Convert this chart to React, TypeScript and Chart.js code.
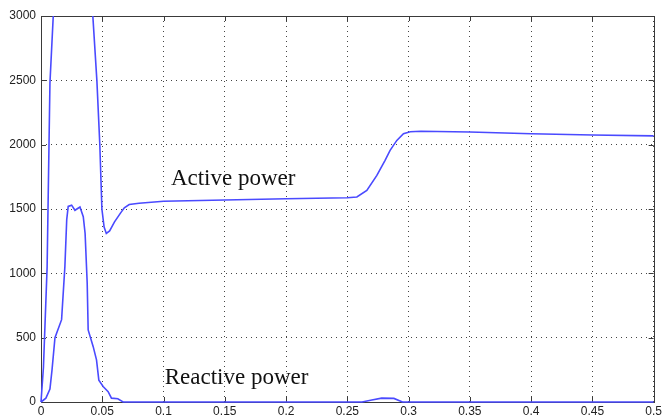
import { useEffect, useRef } from "react";
import { Chart, registerables } from "chart.js";

Chart.register(...registerables);

// Time axis (s) and active power values
const activeT = [0, 0.002, 0.005, 0.0073, 0.01, 0.013, 0.02, 0.03, 0.038, 0.0423, 0.0456, 0.048, 0.0497, 0.0515, 0.0533, 0.056, 0.06, 0.065, 0.068, 0.072, 0.08, 0.1, 0.15, 0.2, 0.25, 0.2578, 0.2659, 0.2741, 0.2808, 0.2849, 0.2904, 0.2958, 0.3013, 0.31, 0.35, 0.4, 0.45, 0.5];
const activeP = [0, 270, 1050, 2480, 3000, 3600, 4300, 4500, 3800, 3000, 2500, 2000, 1500, 1360, 1310, 1330, 1400, 1470, 1510, 1535, 1545, 1560, 1570, 1580, 1588, 1593, 1645, 1761, 1878, 1956, 2033, 2085, 2100, 2104, 2098, 2085, 2075, 2068];

// Time axis (s) and reactive power values
const reactiveT = [0, 0.004, 0.0073, 0.009, 0.0114, 0.0168, 0.0195, 0.021, 0.0222, 0.025, 0.0277, 0.0318, 0.0345, 0.036, 0.0377, 0.0385, 0.0426, 0.0453, 0.0472, 0.0507, 0.0548, 0.0575, 0.0627, 0.067, 0.1, 0.2, 0.262, 0.27, 0.278, 0.288, 0.295, 0.3, 0.4, 0.5];
const reactiveQ = [0, 30, 100, 250, 500, 640, 1054, 1418, 1520, 1530, 1490, 1515, 1440, 1310, 925, 560, 430, 327, 170, 120, 80, 30, 25, 0, 0, 0, 0, 15, 30, 28, 0, 0, 0, 0];

const xTicks = [0, 0.05, 0.1, 0.15, 0.2, 0.25, 0.3, 0.35, 0.4, 0.45, 0.5];
const yTicks = [0, 500, 1000, 1500, 2000, 2500, 3000];

const seriesLabels = ["Active power", "Reactive power"];
const labelT = [0.106, 0.101];
const labelV = [1686, 140];

const LINE_COLOR = "#4a4aff";

export default function App() {
  const ref = useRef<HTMLCanvasElement | null>(null);

  useEffect(() => {
    const canvas = ref.current;
    if (!canvas) return;

    const frame = {
      id: "frame",
      beforeDatasetsDraw(chart: any) {
        const { ctx, chartArea } = chart;
        const { left, right, top, bottom } = chartArea;
        const xs = chart.scales.x;
        const ys = chart.scales.y;
        ctx.save();
        ctx.strokeStyle = "#3a3a3a";
        ctx.lineWidth = 1;
        ctx.strokeRect(Math.round(left) + 0.5, Math.round(top) + 0.5, Math.round(right - left), Math.round(bottom - top));
        ctx.beginPath();
        const tl = 5;
        for (const t of xTicks) {
          const px = Math.round(xs.getPixelForValue(t)) + 0.5;
          ctx.moveTo(px, bottom);
          ctx.lineTo(px, bottom - tl);
          ctx.moveTo(px, top);
          ctx.lineTo(px, top + tl);
        }
        for (const v of yTicks) {
          const py = Math.round(ys.getPixelForValue(v)) + 0.5;
          ctx.moveTo(left, py);
          ctx.lineTo(left + tl, py);
          ctx.moveTo(right, py);
          ctx.lineTo(right - tl, py);
        }
        ctx.stroke();
        ctx.restore();
      },
      afterDraw(chart: any) {
        const { ctx } = chart;
        const xs = chart.scales.x;
        const ys = chart.scales.y;
        ctx.save();
        ctx.fillStyle = "#111";
        ctx.font = '23px "Liberation Serif", "Times New Roman", serif';
        ctx.textAlign = "left";
        ctx.textBaseline = "alphabetic";
        seriesLabels.forEach((s, i) => {
          ctx.fillText(s, xs.getPixelForValue(labelT[i]), ys.getPixelForValue(labelV[i]));
        });
        ctx.restore();
      },
    };

    const fmt = (v: any) => String(Number(Number(v).toFixed(2)));

    const chart = new Chart(canvas, {
      type: "line",
      data: {
        datasets: [
          {
            label: seriesLabels[0],
            data: activeT.map((t, i) => ({ x: t, y: activeP[i] })),
            borderColor: LINE_COLOR,
            borderWidth: 1.6,
            pointRadius: 0,
            tension: 0,
            fill: false,
            clip: { left: 1, top: 0, right: 1, bottom: 2 } as any,
          },
          {
            label: seriesLabels[1],
            data: reactiveT.map((t, i) => ({ x: t, y: reactiveQ[i] })),
            borderColor: LINE_COLOR,
            borderWidth: 1.6,
            pointRadius: 0,
            tension: 0,
            fill: false,
            clip: { left: 1, top: 0, right: 1, bottom: 2 } as any,
          },
        ],
      },
      options: {
        responsive: false,
        animation: false,
        parsing: false as any,
        layout: { padding: { left: 0, right: 10, top: 16, bottom: 0 } },
        plugins: {
          legend: { display: false },
          tooltip: { enabled: false },
        },
        scales: {
          x: {
            type: "linear",
            min: 0,
            max: 0.5,
            afterBuildTicks: (s: any) => {
              s.ticks = xTicks.map((v) => ({ value: v }));
            },
            afterFit: (s: any) => {
              s.height = 17;
            },
            ticks: {
              callback: fmt,
              autoSkip: false,
              maxRotation: 0,
              padding: 2,
              color: "#222",
              font: { family: '"Liberation Sans", Arial, sans-serif', size: 12 },
            },
            grid: { color: "#444", lineWidth: 1, drawTicks: false },
            border: { display: false, dash: [1, 4] },
          },
          y: {
            type: "linear",
            min: 0,
            max: 3000,
            afterBuildTicks: (s: any) => {
              s.ticks = yTicks.map((v) => ({ value: v }));
            },
            afterFit: (s: any) => {
              s.width = 41;
            },
            ticks: {
              callback: fmt,
              autoSkip: false,
              padding: 5,
              color: "#222",
              font: { family: '"Liberation Sans", Arial, sans-serif', size: 12 },
            },
            grid: { color: "#444", lineWidth: 1, drawTicks: false },
            border: { display: false, dash: [1, 4] },
          },
        },
      },
      plugins: [frame],
    });

    return () => chart.destroy();
  }, []);

  return (
    <div style={{ position: "fixed", left: 0, top: 0, width: 664, height: 419, background: "#fff" }}>
      <canvas ref={ref} width={664} height={419} style={{ display: "block" }} />
    </div>
  );
}
